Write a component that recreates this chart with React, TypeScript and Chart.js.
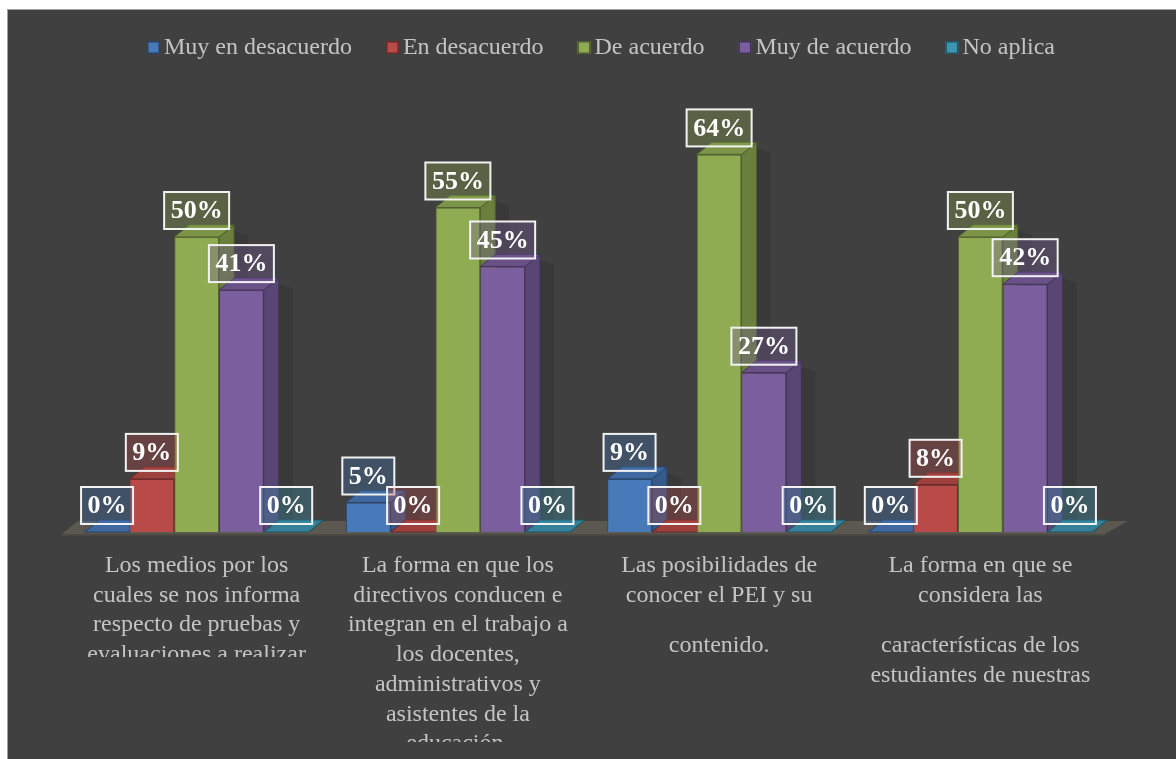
import React, { useEffect, useRef } from "react";
import { Chart, registerables } from "chart.js";

Chart.register(...registerables);

// ---------- data ----------
const categories: string[][] = [
  ["Los medios por los", "cuales se nos informa", "respecto de pruebas y", "evaluaciones a realizar"],
  ["La forma en que los", "directivos conducen e", "integran en el trabajo a", "los docentes,", "administrativos y", "asistentes de la", "educación."],
  ["Las posibilidades de", "conocer el PEI y su", "", "contenido."],
  ["La forma en que se", "considera las", "", "características de los", "estudiantes de nuestras"],
];
const seriesNames = ["Muy en desacuerdo", "En desacuerdo", "De acuerdo", "Muy de acuerdo", "No aplica"];
const muyEnDesacuerdo = [0, 5, 9, 0];
const enDesacuerdo = [9, 0, 0, 8];
const deAcuerdo = [50, 55, 64, 50];
const muyDeAcuerdo = [41, 45, 27, 42];
const noAplica = [0, 0, 0, 0];

// ---------- style ----------
const seriesValues = [muyEnDesacuerdo, enDesacuerdo, deAcuerdo, muyDeAcuerdo, noAplica];
const seriesColors: [number, number, number][] = [
  [72, 121, 185],
  [184, 74, 71],
  [143, 172, 82],
  [122, 94, 158],
  [60, 150, 178],
];
const FONT = '"Liberation Serif", "Times New Roman", serif';
const TEXT_COLOR = "#c4c4c4";
const DX = 15;
const DY = -12;
const LABEL_CLIP: (number | null)[] = [647, 732, null, null];

const rgb = (c: number[], f = 1, a = 1) =>
  `rgba(${Math.round(c[0] * f)},${Math.round(c[1] * f)},${Math.round(c[2] * f)},${a})`;

const poly = (ctx: CanvasRenderingContext2D, pts: number[][]) => {
  ctx.beginPath();
  ctx.moveTo(pts[0][0], pts[0][1]);
  for (let k = 1; k < pts.length; k++) ctx.lineTo(pts[k][0], pts[k][1]);
  ctx.closePath();
};

const threeDPlugin = {
  id: "threeD",
  beforeDatasetsDraw(chart: any) {
    const ctx: CanvasRenderingContext2D = chart.ctx;
    const area = chart.chartArea;
    const base = chart.scales.y.getPixelForValue(0);
    ctx.save();
    // floor
    ctx.fillStyle = "#5b594f";
    poly(ctx, [
      [area.left - 4, base + 2],
      [area.right - 6, base + 2],
      [area.right + 17, base - 11],
      [area.left + 12, base - 11],
    ]);
    ctx.fill();
    ctx.fillStyle = "#4a4842";
    poly(ctx, [
      [area.left - 4, base + 2],
      [area.right - 6, base + 2],
      [area.right - 6, base + 4],
      [area.left - 4, base + 4],
    ]);
    ctx.fill();
    const n = chart.data.labels.length;
    for (let j = 0; j < n; j++) {
      for (let i = 0; i < chart.data.datasets.length; i++) {
        const el = chart.getDatasetMeta(i).data[j];
        if (!el) continue;
        const { x, y, base: b, width } = el.getProps(["x", "y", "base", "width"], true);
        const l = x - width / 2;
        const r = x + width / 2;
        const c = seriesColors[i];
        // soft shadow
        if (b - y > 1) {
          ctx.fillStyle = "rgba(0,0,0,0.10)";
          poly(ctx, [[r + DX, y + DY + 6], [r + DX + 14, y + DY + 10], [r + DX + 14, b + DY], [r + DX, b + DY]]);
          ctx.fill();
        }
        ctx.lineWidth = 1;
        ctx.strokeStyle = rgb(c, 0.55);
        // side face
        ctx.fillStyle = rgb(c, 0.74);
        poly(ctx, [[r, y], [r + DX, y + DY], [r + DX, b + DY], [r, b]]);
        ctx.fill();
        ctx.stroke();
        // top face
        ctx.fillStyle = rgb(c, 0.86);
        poly(ctx, [[l, y], [r, y], [r + DX, y + DY], [l + DX, y + DY]]);
        ctx.fill();
        ctx.stroke();
      }
    }
    ctx.restore();
  },
  afterDatasetsDraw(chart: any) {
    const ctx: CanvasRenderingContext2D = chart.ctx;
    ctx.save();
    ctx.font = `bold 26px ${FONT}`;
    ctx.textAlign = "center";
    ctx.textBaseline = "middle";
    const n = chart.data.labels.length;
    for (let j = 0; j < n; j++) {
      for (let i = 0; i < chart.data.datasets.length; i++) {
        const el = chart.getDatasetMeta(i).data[j];
        if (!el) continue;
        const v = chart.data.datasets[i].data[j];
        const text = `${v}%`;
        const { x, y } = el.getProps(["x", "y"], true);
        const w = ctx.measureText(text).width + 13;
        const h = 37;
        const bottom = y - 8;
        const top = bottom - h;
        ctx.fillStyle = rgb(seriesColors[i], 1, 0.32);
        ctx.fillRect(x - w / 2, top, w, h);
        ctx.lineWidth = 2;
        ctx.strokeStyle = "#f2f2f2";
        ctx.strokeRect(x - w / 2, top, w, h);
        ctx.fillStyle = "#ffffff";
        ctx.fillText(text, x, top + h / 2 + 1);
      }
    }
    ctx.restore();
  },
  afterDraw(chart: any) {
    const ctx: CanvasRenderingContext2D = chart.ctx;
    ctx.save();
    // legend
    ctx.font = `24px ${FONT}`;
    ctx.textBaseline = "alphabetic";
    ctx.textAlign = "left";
    const names: string[] = chart.data.datasets.map((d: any) => d.label);
    const widths = names.map((s) => ctx.measureText(s).width);
    const total = widths.reduce((a, b) => a + b, 0) + names.length * 17 + (names.length - 1) * 34;
    let cx = 593 - total / 2;
    names.forEach((name, i) => {
      ctx.fillStyle = rgb(seriesColors[i]);
      ctx.fillRect(cx, 31, 13, 13);
      ctx.strokeStyle = rgb(seriesColors[i], 0.55);
      ctx.lineWidth = 1.5;
      ctx.strokeRect(cx + 0.75, 31.75, 11.5, 11.5);
      ctx.fillStyle = TEXT_COLOR;
      ctx.fillText(name, cx + 17, 44);
      cx += 17 + widths[i] + 34;
    });
    // category labels
    ctx.textAlign = "center";
    const xs = chart.scales.x;
    const labels: string[][] = chart.data.labels;
    labels.forEach((lines, j) => {
      const x = xs.getPixelForValue(j);
      ctx.save();
      const clip = LABEL_CLIP[j];
      if (clip != null) {
        ctx.beginPath();
        ctx.rect(x - 140, 530, 280, clip - 530);
        ctx.clip();
      }
      let yy = 562;
      lines.forEach((line) => {
        if (line === "") {
          yy += 21;
          return;
        }
        ctx.fillText(line, x, yy);
        yy += 29.7;
      });
      ctx.restore();
    });
    ctx.restore();
  },
};

export default function App() {
  const ref = useRef<HTMLCanvasElement | null>(null);
  useEffect(() => {
    if (!ref.current) return;
    const chart = new Chart(ref.current, {
      type: "bar",
      data: {
        labels: categories as any,
        datasets: seriesNames.map((name, i) => ({
          label: name,
          data: seriesValues[i],
          backgroundColor: rgb(seriesColors[i]),
          borderColor: rgb(seriesColors[i], 0.6),
          borderWidth: 1,
          categoryPercentage: 0.857,
          barPercentage: 1.0,
        })),
      },
      options: {
        responsive: true,
        maintainAspectRatio: false,
        animation: false,
        layout: { padding: { left: 58, right: 65, top: 109, bottom: 227 } },
        plugins: { legend: { display: false }, tooltip: { enabled: false } },
        scales: {
          x: { display: false },
          y: { display: false, min: 0, max: 70 },
        },
      },
      plugins: [threeDPlugin],
    });
    return () => chart.destroy();
  }, []);
  return (
    <div
      style={{
        position: "fixed",
        left: 7,
        top: 9,
        width: 1169,
        height: 750,
        boxSizing: "border-box",
        borderLeft: "1px solid #a0a0a0",
        borderTop: "1px solid #a0a0a0",
        background: "#404040",
      }}
    >
      <div style={{ position: "relative", width: "100%", height: "100%" }}>
        <canvas ref={ref} />
      </div>
    </div>
  );
}
